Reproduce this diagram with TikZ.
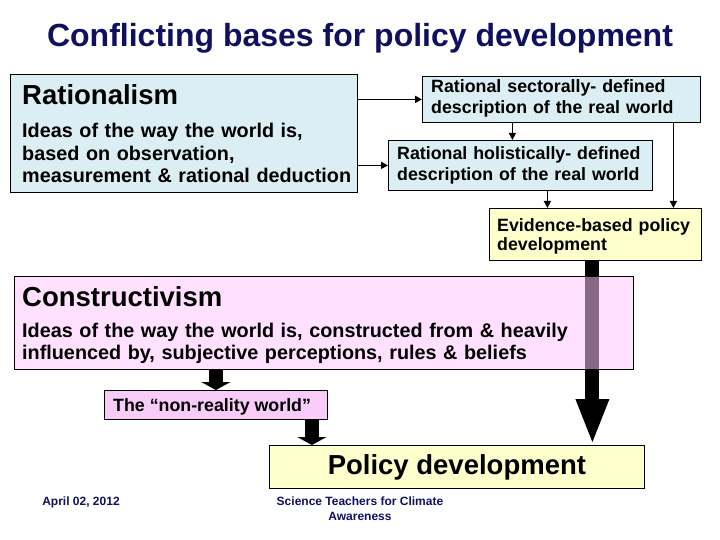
\documentclass[tikz,border=0pt]{standalone}
\usepackage{fontspec}
\setmainfont{Liberation Sans}
\usetikzlibrary{positioning,arrows.meta}

\definecolor{navy}{RGB}{16,16,96}
\definecolor{ratblue}{RGB}{219,238,243}
\definecolor{evyellow}{RGB}{255,255,204}
\definecolor{conpink}{RGB}{255,198,255}
\definecolor{nonpink}{RGB}{248,204,248}

\newcommand{\headfont}{\fontsize{27.5}{32}\selectfont\bfseries}
\newcommand{\bodyfont}{\fontsize{19.8}{22.5}\selectfont\bfseries}
\newcommand{\ratfont}{\fontsize{17.8}{20.5}\selectfont\bfseries}
\newcommand{\evfont}{\fontsize{17.8}{18.5}\selectfont\bfseries}

\begin{document}
\begin{tikzpicture}
    [ x = 1pt, y = -1pt
    , box/.style =
      { draw, line width=.8pt, inner sep=0pt, anchor=north west }
    , txt/.style =
      { inner sep=0pt, anchor=base west, align=left }
    , thinarrow/.style =
      { line width=1.6pt, -{Triangle[length=7pt,width=7pt]} }
    , fatarrow/.style =
      { line width=14pt, -{Triangle[length=8pt,width=29pt]} }
    , bigarrow/.style =
      { line width=14pt, -{Triangle[length=46pt,width=30pt]} }
    , foot/.style =
      { text=navy, align=center, inner sep=0pt,
        font=\fontsize{12}{15}\selectfont\bfseries }
    ]
    \useasboundingbox (0,0) rectangle (720,540);

    \node [text=navy, font=\fontsize{32}{38}\selectfont\bfseries]
      (title) at (360,38) {Conflicting bases for policy development};

    % rational side
    \node [box, fill=ratblue, minimum width=347pt, minimum height=118pt] (rat) at (10,74) {};
    \node [txt, font=\headfont] (rathead) at (22,105) {Rationalism};
    \node [txt, font=\bodyfont, text width=340pt] (ratbody) at (22,138)
      {Ideas of the way the world is,\\ based on observation,\\ measurement \& rational deduction};

    \node [box, fill=ratblue, minimum width=278pt, minimum height=46pt] (sec) at (422,76) {};
    \node [txt, font=\ratfont, text width=270pt] (sectxt) at (431,93)
      {Rational sectorally- defined\\ description of the real world};

    \node [box, fill=ratblue, minimum width=264pt, minimum height=50pt] (hol) at (388,140) {};
    \node [txt, font=\ratfont, text width=260pt] (holtxt) at (397,160)
      {Rational holistically- defined\\ description of the real world};

    \node [box, fill=evyellow, minimum width=212pt, minimum height=52pt] (evi) at (489,208) {};
    \node [txt, font=\evfont, text width=210pt] (evitxt) at (497,232)
      {Evidence-based policy\\ development};

    % constructivist side
    \node [box, fill=nonpink, minimum width=223pt, minimum height=29pt] (non) at (104,390) {};
    \node [txt, font=\evfont] (nontxt) at (113,411) {The “non-reality world”};

    \node [box, fill=evyellow, minimum width=375pt, minimum height=43pt,
      font=\headfont] (pol) at (269,445) {Policy development};

    \draw [bigarrow] ([xshift=-3pt]evi.south) -- ([xshift=-3pt]evi.south |- pol.north);

    \node [box, fill=conpink, fill opacity=.53, minimum width=619pt, minimum height=93pt] (con) at (14,276) {};
    \node [txt, font=\headfont] (conhead) at (22,306) {Constructivism};
    \node [txt, font=\bodyfont, text width=610pt] (conbody) at (22,337)
      {Ideas of the way the world is, constructed from \& heavily\\ influenced by, subjective perceptions, rules \& beliefs};

    % connectors
    \draw [thinarrow] (rat.east |- sec.west) -- (sec.west);
    \draw [thinarrow] (rat.east |- hol.west) -- (hol.west);
    \draw [thinarrow] ([xshift=-8pt]hol.north |- sec.south) -- ([xshift=-8pt]hol.north);
    \draw [thinarrow] ([xshift=27pt]hol.south) -- ([xshift=27pt]hol.south |- evi.north);
    \draw [thinarrow] ([xshift=112pt]sec.south) -- ([xshift=112pt]sec.south |- evi.north);
    \draw [fatarrow] ([xshift=0pt]non.north |- con.south) -- ([xshift=0pt]non.north);
    \draw [fatarrow] ([xshift=96pt]non.south) -- ([xshift=96pt]non.south |- pol.north);

    \node [foot] (date) at (81,502) {April 02, 2012};
    \node [foot] (org) at (360,509) {Science Teachers for Climate\\ Awareness};
\end{tikzpicture}
\end{document}
